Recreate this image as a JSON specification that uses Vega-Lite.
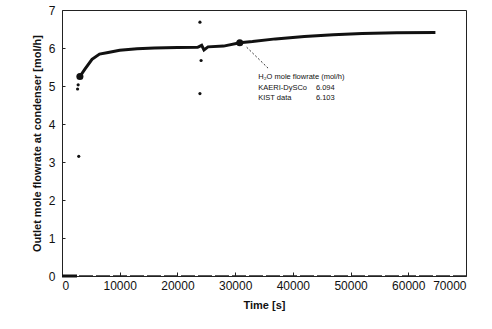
{
  "$schema": "https://vega.github.io/schema/vega-lite/v6.json",
  "autosize": "none",
  "width": 404,
  "height": 266,
  "padding": {"left": 62, "top": 10, "right": 26, "bottom": 53},
  "background": "white",
  "config": {
    "view": {"stroke": "#222", "strokeWidth": 1},
    "axis": {
      "labelFont": "Liberation Sans", "titleFont": "Liberation Sans",
      "labelColor": "#111", "titleColor": "#111", "grid": false, "labelOverlap": false,
      "domainColor": "#222", "tickColor": "#222", "labelFontSize": 12, "titleFontSize": 11, "titleFontWeight": "bold"
    }
  },
  "datasets": {
    "line": [
      {"t": 3100, "v": 5.25}, {"t": 4000, "v": 5.45}, {"t": 5200, "v": 5.7}, {"t": 6500, "v": 5.84},
      {"t": 8000, "v": 5.88}, {"t": 10000, "v": 5.94}, {"t": 13000, "v": 5.98}, {"t": 16000, "v": 6.0},
      {"t": 20000, "v": 6.01}, {"t": 23500, "v": 6.02}, {"t": 24200, "v": 6.07}, {"t": 24600, "v": 5.95},
      {"t": 25300, "v": 6.03}, {"t": 28000, "v": 6.05}, {"t": 30800, "v": 6.14}, {"t": 33000, "v": 6.17},
      {"t": 37000, "v": 6.24}, {"t": 42000, "v": 6.3}, {"t": 47000, "v": 6.35}, {"t": 52000, "v": 6.38},
      {"t": 58000, "v": 6.4}, {"t": 64700, "v": 6.41}
    ],
    "zero": [
      {"t": 0, "v": 0}, {"t": 70000, "v": 0}
    ],
    "dots": [
      {"t": 2900, "v": 3.15}, {"t": 2700, "v": 4.92}, {"t": 2800, "v": 5.03}, {"t": 23900, "v": 6.68},
      {"t": 24100, "v": 5.67}, {"t": 23900, "v": 4.8}
    ],
    "arrow": [
      {"t": 35700, "v": 5.47}, {"t": 32000, "v": 6.02}
    ],
    "notes": [
      {"t": 34000, "v": 5.24, "s": "H₂O mole flowrate (mol/h)"},
      {"t": 34000, "v": 4.96, "s": "KAERI-DySCo"},
      {"t": 34000, "v": 4.68, "s": "KIST data"},
      {"t": 44000, "v": 4.96, "s": "6.094"},
      {"t": 44000, "v": 4.68, "s": "6.103"}
    ]
  },
  "encoding": {
    "x": {"field": "t", "type": "quantitative", "scale": {"domain": [0, 70000], "nice": false}, "title": "Time [s]",
      "axis": {"values": [0,10000,20000,30000,40000,50000,60000,70000], "format": "d", "tickSize": -4, "labelPadding": 8, "titlePadding": 8, "domain": false}},
    "y": {"field": "v", "type": "quantitative", "scale": {"domain": [0, 7], "nice": false}, "title": "Outlet mole flowrate at condenser [mol/h]",
      "axis": {"values": [0,1,2,3,4,5,6,7], "format": "d", "tickSize": -3, "labelPadding": 10, "titlePadding": 6, "domain": false}}
  },
  "layer": [
    {
      "data": {"name": "zero"},
      "mark": {"type": "line", "color": "#222", "strokeWidth": 1.5, "strokeDash": [14, 3]}
    },
    {
      "data": {"values": [{"t": 0, "v": 0}, {"t": 2600, "v": 0}]},
      "mark": {"type": "line", "color": "#111", "strokeWidth": 3}
    },
    {
      "data": {"name": "line"},
      "mark": {"type": "line", "color": "#111", "strokeWidth": 3}
    },
    {
      "data": {"name": "dots"},
      "mark": {"type": "circle", "color": "#111", "size": 10, "opacity": 1}
    },
    {
      "data": {"values": [{"t": 30800, "v": 6.14}, {"t": 3100, "v": 5.25}]},
      "mark": {"type": "circle", "color": "#111", "size": 50, "opacity": 1}
    },
    {
      "data": {"name": "arrow"},
      "mark": {"type": "line", "color": "#333", "strokeWidth": 1, "strokeDash": [2, 2]}
    },
    {
      "data": {"name": "notes"},
      "mark": {"type": "text", "align": "left", "baseline": "middle", "font": "Liberation Sans", "fontSize": 7.5, "color": "#111"},
      "encoding": {"text": {"field": "s"}}
    }
  ]
}
